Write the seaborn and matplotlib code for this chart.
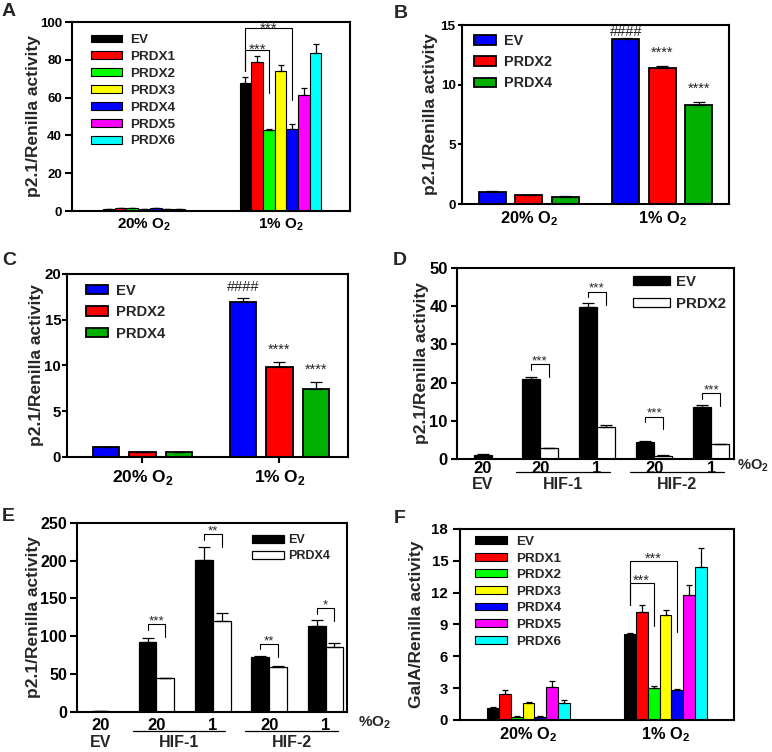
import numpy as np
import pandas as pd
import matplotlib
matplotlib.use("Agg")
import matplotlib.pyplot as plt
import seaborn as sns

sns.set_theme(style="ticks")
plt.rcParams["font.family"] = ["Liberation Sans", "DejaVu Sans"]
plt.rcParams["font.weight"] = "bold"
plt.rcParams["axes.labelweight"] = "bold"
plt.rcParams["mathtext.fontset"] = "custom"
plt.rcParams["mathtext.rm"] = "Liberation Sans:bold"
plt.rcParams["mathtext.bf"] = "Liberation Sans:bold"

# ── Data ─────────────────────────────────────────────────────────────────
O2_LEVELS = ["20% O$_\\mathbf{2}$", "1% O$_\\mathbf{2}$"]

PRDX_ALL = ["EV", "PRDX1", "PRDX2", "PRDX3", "PRDX4", "PRDX5", "PRDX6"]
PRDX_COLOURS = ["#000000", "#FF0000", "#00FF00", "#FFFF00", "#0000FF", "#FF00FF", "#00FFFF"]

A_20     = [1.0, 1.6, 1.6, 1.2, 1.4, 1.2, 1.1]
A_20_SEM = [0.1, 0.2, 0.2, 0.1, 0.1, 0.1, 0.1]
A_1      = [67.8, 78.9, 43.1, 74.1, 43.5, 61.6, 83.6]
A_1_SEM  = [3.2, 3.1, 0.5, 3.4, 2.3, 3.7, 5.0]

F_20     = [1.1, 2.45, 0.3, 1.57, 0.3, 3.14, 1.57]
F_20_SEM = [0.1, 0.35, 0.05, 0.08, 0.05, 0.55, 0.3]
F_1      = [8.1, 10.2, 3.0, 9.9, 2.83, 11.78, 14.45]
F_1_SEM  = [0.12, 0.6, 0.2, 0.45, 0.12, 0.95, 1.8]

BC_LABELS  = ["EV", "PRDX2", "PRDX4"]
BC_COLOURS = ["#0000FF", "#FF0000", "#00B000"]
B_20     = [1.03, 0.75, 0.61]
B_20_SEM = [0.03, 0.03, 0.03]
B_1      = [13.8, 11.37, 8.3]
B_1_SEM  = [0.15, 0.2, 0.28]
C_20     = [1.05, 0.55, 0.55]
C_20_SEM = [0.03, 0.03, 0.03]
C_1      = [16.95, 9.8, 7.45]
C_1_SEM  = [0.4, 0.55, 0.7]

HIF_CATS = ["EV 20", "HIF-1 20", "HIF-1 1", "HIF-2 20", "HIF-2 1"]
HIF_O2   = ["20", "20", "1", "20", "1"]
HIF_GROUPS = [("EV", [0]), ("HIF-1", [1, 2]), ("HIF-2", [3, 4])]

D_EV        = [1.1, 20.9, 39.8, 4.6, 13.7]
D_EV_SEM    = [0.2, 0.5, 0.9, 0.3, 0.45]
D_PRDX2     = [np.nan, 2.9, 8.5, 0.9, 3.9]
D_PRDX2_SEM = [np.nan, 0.15, 0.35, 0.1, 0.2]
D_STARS     = ["***", "***", "***", "***"]
D_BRACKET_Y = [24.8, 43.7, 11.1, 17.2]

E_EV        = [1.0, 92.5, 200.5, 72.0, 113.5]
E_EV_SEM    = [0.3, 4.5, 17.5, 1.5, 7.5]
E_PRDX4     = [np.nan, 44.0, 120.0, 58.5, 85.5]
E_PRDX4_SEM = [np.nan, 0.5, 10.0, 1.5, 5.5]
E_STARS     = ["***", "**", "**", "*"]
E_BRACKET_Y = [115.5, 234.6, 89.5, 136.7]


# ── Helpers ──────────────────────────────────────────────────────────────
def sem_bar(ax, bar, v, e, capsize, lw=0.9):
    xc = bar.get_x() + bar.get_width() / 2
    ax.errorbar(xc, v, yerr=[[0], [e]], fmt="none", ecolor="black",
                elinewidth=lw, capsize=capsize, capthick=lw)


def centre(bar):
    return bar.get_x() + bar.get_width() / 2


def bracket(ax, x0, x1, top, y_left, y_right, label, fs, pad=0.0):
    ax.plot([x0, x0, x1, x1], [y_left, top, top, y_right], color="black", lw=0.8)
    ax.annotate(label, ((x0 + x1) / 2, top), xytext=(0, pad), textcoords="offset points",
                ha="center", va="baseline", fontsize=fs, fontweight="normal")


def grouped_panel(ax, labels, colours, v20, s20, v1, s1, width, gap, edge_lw, capsize):
    df = pd.DataFrame({
        "cond": [O2_LEVELS[0]] * len(labels) + [O2_LEVELS[1]] * len(labels),
        "construct": labels * 2,
        "val": v20 + v1,
    })
    sns.barplot(data=df, x="cond", y="val", hue="construct", order=O2_LEVELS,
                hue_order=labels, palette=colours, width=width, gap=gap,
                edgecolor="black", linewidth=edge_lw, saturation=1,
                errorbar=None, ax=ax)
    for cont, a, b, ea, eb in zip(ax.containers, v20, v1, s20, s1):
        for bar, v, e in zip(cont.patches, [a, b], [ea, eb]):
            sem_bar(ax, bar, v, e, capsize)
    return ax.containers


def hif_panel(ax, ev, ev_sem, trt, trt_sem, trt_name, capsize):
    df = pd.DataFrame({
        "cat": HIF_CATS * 2,
        "construct": ["EV"] * len(HIF_CATS) + [trt_name] * len(HIF_CATS),
        "val": ev + trt,
    })
    paired = df[(df["cat"] != HIF_CATS[0])]
    sns.barplot(data=paired, x="cat", y="val", hue="construct", order=HIF_CATS,
                hue_order=["EV", trt_name], palette=["black", "white"], width=0.63,
                edgecolor="black", linewidth=0.9, saturation=1, errorbar=None, ax=ax)
    conts = list(ax.containers)
    for cont, vals, errs in zip(conts, [ev[1:], trt[1:]], [ev_sem[1:], trt_sem[1:]]):
        for bar, v, e in zip(cont.patches, vals, errs):
            sem_bar(ax, bar, v, e, capsize)
    alone = df[(df["cat"] == HIF_CATS[0]) & (df["construct"] == "EV")]
    sns.barplot(data=alone, x="cat", y="val", order=HIF_CATS, color="black", width=0.33,
                edgecolor="black", linewidth=0.9, saturation=1, errorbar=None, ax=ax)
    sem_bar(ax, ax.containers[-1].patches[0], ev[0], ev_sem[0], capsize)
    return conts


def style_axes(ax, ylim, yticks, xlim, ylabel, ytick_fs, xtick_fs,
               tick_len=5, tick_pad=2.3, labelpad=0, ylabel_fs=12.5):
    ax.set_xlim(xlim)
    ax.set_ylim(ylim)
    ax.set_yticks(yticks)
    ax.set_xlabel("")
    ax.set_ylabel(ylabel, fontsize=ylabel_fs, fontweight="bold", labelpad=labelpad)
    for s in ax.spines.values():
        s.set_visible(True)
        s.set_linewidth(1.5)
        s.set_color("black")
    ax.tick_params(axis="y", direction="out", length=tick_len, width=1.5, pad=tick_pad,
                   labelsize=ytick_fs, colors="black")
    ax.tick_params(axis="x", length=0, labelsize=xtick_fs, colors="black", pad=4)


def legend(ax, anchor, fs, hl, hh, ls, htp):
    sns.move_legend(ax, "upper left", bbox_to_anchor=anchor, frameon=False, title=None,
                    fontsize=fs, handlelength=hl, handleheight=hh, labelspacing=ls,
                    handletextpad=htp, borderpad=0, borderaxespad=0)


def hif_xlabels(ax, row1_pad, line_y, row2_y, fs, pct_x, pct_y, pct_fs):
    ax.set_xticks(range(len(HIF_CATS)))
    ax.set_xticklabels(HIF_O2, fontsize=fs, fontweight="bold")
    ax.tick_params(axis="x", length=0, pad=row1_pad)
    tr = ax.get_xaxis_transform()
    for name, idx in HIF_GROUPS:
        if len(idx) > 1:
            x0, x1 = idx[0] - 0.42, idx[-1] + 0.22
            ax.plot([x0, x1], [line_y, line_y], color="black", lw=0.9,
                    transform=tr, clip_on=False)
            xc = (x0 + x1) / 2
        else:
            xc = idx[0]
        ax.text(xc, row2_y, name, transform=tr, ha="center", va="top",
                fontsize=11.5, fontweight="bold")
    ax.text(pct_x, pct_y, "%O$_\\mathbf{2}$", transform=ax.transAxes, ha="left",
            va="center", fontsize=pct_fs, fontweight="bold")


# ── Figure ───────────────────────────────────────────────────────────────
fig = plt.figure(figsize=(7.72, 7.52), dpi=100)
axA = fig.add_axes([0.0933, 0.7194, 0.3601, 0.2513])
axB = fig.add_axes([0.5984, 0.7287, 0.3459, 0.2380])
axC = fig.add_axes([0.0868, 0.3923, 0.3640, 0.2434])
axD = fig.add_axes([0.5920, 0.3892, 0.3588, 0.2548])
axE = fig.add_axes([0.0997, 0.0536, 0.3497, 0.2513])
axF = fig.add_axes([0.5959, 0.0426, 0.3549, 0.2540])

# A
cA = grouped_panel(axA, PRDX_ALL, PRDX_COLOURS, A_20, A_20_SEM, A_1, A_1_SEM,
                   0.6, 0, 0.8, 2.5)
style_axes(axA, (0, 100), range(0, 101, 20), (-0.527, 1.509),
           "p2.1/Renilla activity", 9.5, 11, labelpad=-1)
legend(axA, (0.067, 0.935), 9.7, 2.3, 0.52, 0.36, 0.6)
ev, p2, p4 = centre(cA[0].patches[1]), centre(cA[2].patches[1]), centre(cA[4].patches[1])
bracket(axA, ev, p4, 96.6, 74, 58.7, "***", 11, pad=-3)
bracket(axA, ev, p2, 85.2, 74, 62.4, "***", 11, pad=-3)

# B
cB = grouped_panel(axB, BC_LABELS, BC_COLOURS, B_20, B_20_SEM, B_1, B_1_SEM,
                   0.82, 0.27, 1.3, 4)
style_axes(axB, (0, 15), [0, 5, 10, 15], (-0.5, 1.5), "p2.1/Renilla activity", 9.7, 11.8,
           tick_len=3, tick_pad=1.5, labelpad=2)
legend(axB, (0.045, 0.95), 10.4, 1.5, 0.62, 0.5, 0.55)
axB.text(centre(cB[0].patches[1]), B_1[0], "####", ha="center", va="bottom",
         fontsize=10.5, fontweight="normal")
for k in (1, 2):
    axB.text(centre(cB[k].patches[1]), B_1[k] + B_1_SEM[k] + 0.5, "****",
             ha="center", va="bottom", fontsize=10.5, fontweight="normal")

# C
cC = grouped_panel(axC, BC_LABELS, BC_COLOURS, C_20, C_20_SEM, C_1, C_1_SEM,
                   0.8, 0.27, 1.3, 4)
style_axes(axC, (0, 20), [0, 5, 10, 15, 20], (-0.55, 1.5), "p2.1/Renilla activity",
           10.8, 12.5, tick_len=3.5, tick_pad=0.7, labelpad=0)
axC.tick_params(axis="x", length=4, width=1.5, direction="out")
legend(axC, (0.068, 0.947), 10.6, 1.5, 0.6, 0.52, 0.55)
axC.text(centre(cC[0].patches[1]), C_1[0] + C_1_SEM[0] + 0.5, "####", ha="center",
         va="bottom", fontsize=10.5, fontweight="normal")
for k in (1, 2):
    axC.text(centre(cC[k].patches[1]), C_1[k] + C_1_SEM[k] + 0.6, "****",
             ha="center", va="bottom", fontsize=10.5, fontweight="normal")

# D
cD = hif_panel(axD, D_EV, D_EV_SEM, D_PRDX2, D_PRDX2_SEM, "PRDX2", 4.5)
style_axes(axD, (0, 50), range(0, 51, 10), (-0.456, 4.40), "p2.1/Renilla activity",
           12, 12, tick_len=4.5, tick_pad=2.2, labelpad=0)
hif_xlabels(axD, 1.5, -0.065, -0.09, 12, 1.01, -0.033, 10.5)
legend(axD, (0.634, 0.962), 10.8, 2.47, 0.51, 0.54, 0.42)
for j, (top, lab) in enumerate(zip(D_BRACKET_Y, D_STARS)):
    bracket(axD, centre(cD[0].patches[j]), centre(cD[1].patches[j]), top,
            top - 0.028 * 50, top - 0.066 * 50, lab, 9.6)

# E
cE = hif_panel(axE, E_EV, E_EV_SEM, E_PRDX4, E_PRDX4_SEM, "PRDX4", 4.5)
style_axes(axE, (0, 250), range(0, 251, 50), (-0.41, 4.38), "p2.1/Renilla activity",
           11.5, 12, tick_len=5, tick_pad=2.2, labelpad=-1)
hif_xlabels(axE, 4.5, -0.1, -0.125, 12, 1.04, -0.057, 11)
legend(axE, (0.647, 0.94), 9, 2.56, 0.64, 0.32, 0.35)
for j, (top, lab) in enumerate(zip(E_BRACKET_Y, E_STARS)):
    bracket(axE, centre(cE[0].patches[j]), centre(cE[1].patches[j]), top,
            top - 0.028 * 250, top - 0.066 * 250, lab, 9.6)

# F
cF = grouped_panel(axF, PRDX_ALL, PRDX_COLOURS, F_20, F_20_SEM, F_1, F_1_SEM,
                   0.61, 0, 0.8, 2.5)
style_axes(axF, (0, 18), range(0, 19, 3), (-0.5, 1.5), "GalA/Renilla activity",
           10.8, 11.8, tick_len=5, tick_pad=3.5, labelpad=5.5)
legend(axF, (0.055, 0.963), 9.7, 2.4, 0.52, 0.34, 0.65)
ev, p2, p4 = centre(cF[0].patches[1]), centre(cF[2].patches[1]), centre(cF[4].patches[1])
bracket(axF, ev, p4, 15.0, 10.8, 8.3, "***", 10.3, pad=-1.5)
bracket(axF, ev, p2, 12.9, 10.8, 8.86, "***", 10.3, pad=-1.5)

# Panel letters
for letter, (px, py) in zip("ABCDEF", [(2, 3), (394, 5), (2, 252), (393, 252),
                                       (2, 508), (394, 510)]):
    fig.text(px / 772, 1 - py / 752, letter, ha="left", va="top", fontsize=14,
             fontweight="bold")

fig.savefig("out.png", dpi=100)
